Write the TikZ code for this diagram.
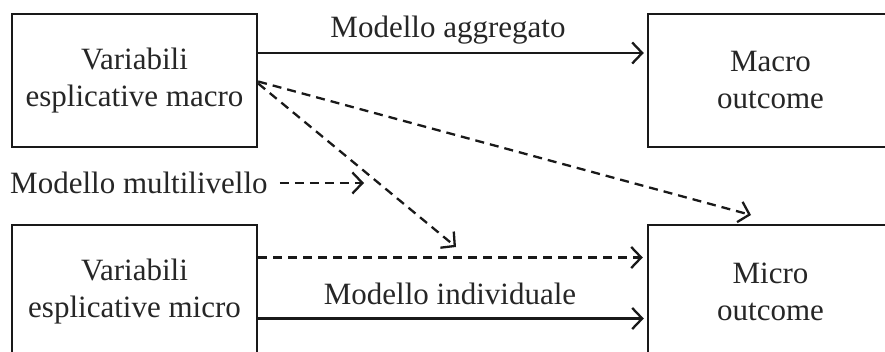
\documentclass[tikz,border=0pt]{standalone}
\usepackage{fontspec}
\setmainfont{Liberation Serif}
\usetikzlibrary{arrows.meta}
\begin{document}
\begin{tikzpicture}[x=1pt,y=-1pt,
  box/.style={draw=black!90,line width=2.4pt,minimum width=245pt,minimum height=133pt,
    align=center,inner sep=0pt,font=\fontsize{31}{37}\selectfont,text=black!85},
  lbl/.style={font=\fontsize{31}{37}\selectfont,text=black!85,inner sep=0pt},
  arr/.style={line width=2.3pt,draw=black!90,-{Straight Barb[length=10pt,width=21pt,line width=2.3pt]}},
  dsh/.style={arr,dash pattern=on 9pt off 6pt}]
\useasboundingbox (0,0) rectangle (885,352);
\clip (0,0) rectangle (885,352);
\node[box] (b1) at (134.5,80.5) {Variabili\\esplicative macro};
\node[box] (b2) at (770.5,80.5) {Macro\\outcome};
\node[box] (b3) at (134.5,291.5) {Variabili\\esplicative micro};
\node[box] (b4) at (770.5,291.5) {Micro\\outcome};
\node[lbl] (agg) at (448,30) {Modello aggregato};
\node[lbl] (ind) at (450,294) {Modello individuale};
\node[lbl,anchor=west] (ml) at (10,183) {Modello multilivello};
\coordinate (t1) at (751,215);
\coordinate (t2) at (456,247);
\coordinate (t3) at (364,183);
\draw[arr] ([yshift=27.5pt]b1.east) -- ([yshift=27.5pt,xshift=-3pt]b2.west);
\draw[dsh] ([yshift=-1pt]b1.east) -- (t1);
\draw[dsh] ([yshift=-3pt]b1.east) -- (t2);
\draw[dsh] ([xshift=12pt]ml.east) -- (t3);
\draw[dsh] ([yshift=34pt]b3.east) -- ([yshift=34pt,xshift=-4pt]b4.west);
\draw[arr] ([yshift=-27pt]b3.east) -- ([yshift=-27pt,xshift=-3pt]b4.west);
\end{tikzpicture}
\end{document}
